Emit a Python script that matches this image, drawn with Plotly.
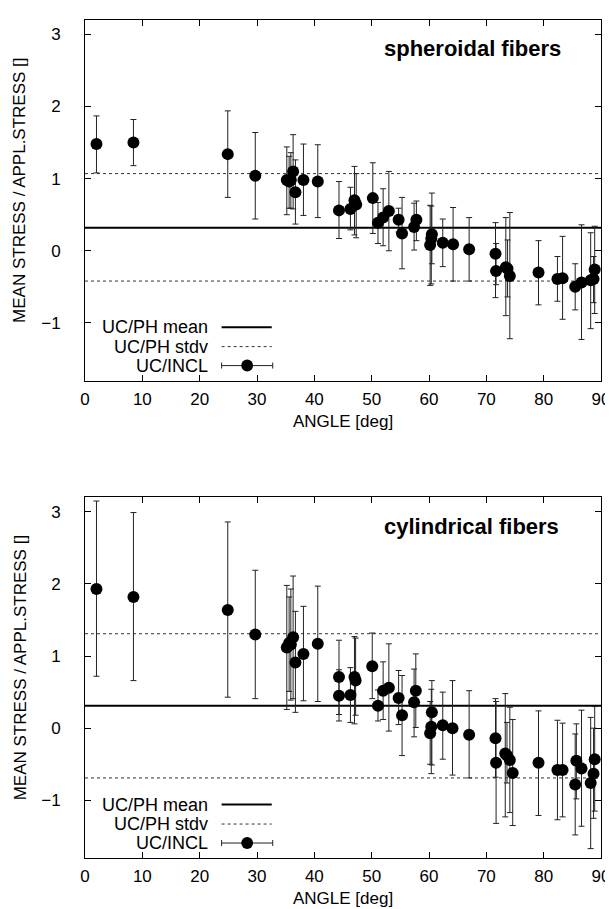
import plotly.graph_objects as go

# ---------------- data ----------------
X_RANGE = [0, 90]
Y_RANGE = [-1.8, 3.2]
X_TICKS = [0, 10, 20, 30, 40, 50, 60, 70, 80, 90]
Y_TICKS = [-1, 0, 1, 2, 3]

TITLE_TOP = "spheroidal fibers"
TITLE_BOT = "cylindrical fibers"

# UC/PH reference lines
MEAN_TOP = 0.32
STDV_TOP = [1.07, -0.42]
MEAN_BOT = 0.31
STDV_BOT = [1.31, -0.69]

# spheroidal fibers: angle, value, upper bound, lower bound
ANG_TOP = [2.0, 8.45, 24.9, 29.7, 35.2, 35.6, 35.9, 36.3, 36.7, 38.1, 40.6, 44.3,
           46.3, 47.0, 47.3, 50.2, 51.1, 52.0, 53.0, 54.7, 55.3, 57.4, 57.8, 60.2,
           60.4, 60.5, 62.4, 64.2, 67.0, 71.6, 71.7, 73.4, 73.7, 74.1, 79.1, 82.4,
           83.3, 85.5, 86.6, 88.2, 88.7, 88.9]
VAL_TOP = [1.48, 1.50, 1.34, 1.04, 0.98, 0.96, 0.98, 1.10, 0.81, 0.98, 0.96, 0.56,
           0.58, 0.70, 0.64, 0.73, 0.39, 0.46, 0.55, 0.43, 0.24, 0.33, 0.43, 0.08,
           0.17, 0.23, 0.11, 0.09, 0.02, -0.04, -0.28, -0.23, -0.25, -0.35, -0.30, -0.39,
           -0.38, -0.50, -0.44, -0.41, -0.39, -0.26]
HI_TOP = [1.87, 1.82, 1.94, 1.64, 1.44, 1.31, 1.36, 1.61, 1.26, 1.48, 1.47, 0.96,
          0.88, 1.17, 1.07, 1.22, 0.67, 0.86, 1.10, 0.59, 0.74, 0.66, 0.69, 0.63,
          0.62, 0.80, 0.44, 0.60, 0.46, 0.39, 0.10, 0.46, 0.15, 0.53, 0.14, -0.08,
          0.20, -0.18, 0.36, 0.25, -0.08, 0.34]
LO_TOP = [1.08, 1.18, 0.74, 0.44, 0.50, 0.59, 0.59, 0.58, 0.37, 0.49, 0.46, 0.17,
          0.29, 0.22, 0.18, 0.24, 0.10, 0.07, 0.00, 0.26, -0.25, 0.01, 0.14, -0.48,
          -0.46, -0.18, -0.22, -0.42, -0.42, -0.65, -0.47, -0.90, -0.64, -1.22, -0.75, -0.70,
          -0.95, -0.82, -1.23, -1.08, -0.72, -0.87]

# cylindrical fibers
ANG_BOT = [2.0, 8.45, 24.9, 29.7, 35.2, 35.6, 35.9, 36.3, 36.7, 38.1, 40.6, 44.3,
           44.3, 46.3, 47.0, 47.2, 50.1, 51.1, 52.0, 53.0, 54.7, 55.3, 57.4, 57.7,
           60.2, 60.4, 60.5, 62.4, 64.1, 67.0, 71.6, 71.7, 73.3, 73.6, 74.1, 74.6,
           79.1, 82.4, 83.3, 85.5, 85.7, 86.6, 88.2, 88.7, 88.9]
VAL_BOT = [1.93, 1.82, 1.64, 1.30, 1.12, 1.18, 1.16, 1.26, 0.91, 1.03, 1.17, 0.71,
           0.45, 0.46, 0.71, 0.66, 0.86, 0.31, 0.52, 0.56, 0.42, 0.18, 0.36, 0.52,
           -0.07, 0.02, 0.22, 0.04, 0.00, -0.09, -0.14, -0.48, -0.35, -0.38, -0.44, -0.62,
           -0.48, -0.58, -0.58, -0.78, -0.45, -0.56, -0.76, -0.63, -0.43]
HI_BOT = [3.15, 2.99, 2.86, 2.19, 1.98, 1.82, 1.93, 2.11, 1.62, 1.69, 1.97, 1.22,
          0.81, 0.84, 1.27, 1.25, 1.32, 0.53, 0.92, 1.17, 0.80, 0.73, 0.82, 1.03,
          0.37, 0.54, 0.66, 0.50, 0.66, 0.52, 0.41, 0.37, 0.48, 0.08, 0.29, 0.12,
          0.24, 0.11, 0.07, -0.08, 0.06, 0.25, 0.15, 0.00, 0.30]
LO_BOT = [0.72, 0.66, 0.43, 0.41, 0.26, 0.51, 0.39, 0.41, 0.22, 0.38, 0.37, 0.19,
          0.10, 0.08, 0.06, 0.18, 0.41, 0.10, 0.12, -0.04, 0.05, -0.38, -0.12, 0.01,
          -0.50, -0.63, -0.51, -0.43, -0.65, -0.69, -0.68, -1.32, -1.23, -0.76, -1.17, -1.35,
          -1.21, -1.27, -1.23, -1.48, -0.98, -1.36, -1.67, -1.25, -1.15]

LEGEND_LABELS = ["UC/PH mean", "UC/PH stdv", "UC/INCL"]

# ---------------- layout helpers ----------------
W, H = 613, 909
ML, MR, MT, MB = 77, 11, 11, 59
PW, PH = W - ML - MR, H - MT - MB
FONT = "Liberation Sans, Arial, Helvetica, sans-serif"


def pxx(x):
    return (x - ML) / PW


def pxy(y):
    return (H - MB - y) / PH


TOP_BOX = (11, 372)
BOT_BOX = (489, 850)

fig = go.Figure()
shapes = []
annotations = []

panels = [
    (ANG_TOP, VAL_TOP, HI_TOP, LO_TOP, MEAN_TOP, STDV_TOP, TITLE_TOP, "x", "y", TOP_BOX, 563),
    (ANG_BOT, VAL_BOT, HI_BOT, LO_BOT, MEAN_BOT, STDV_BOT, TITLE_BOT, "x2", "y2", BOT_BOX, 561),
]

for ang, val, hi, lo, mean, stdv, title, xa, ya, box, title_right in panels:
    for s in stdv:
        fig.add_trace(go.Scatter(x=X_RANGE, y=[s, s], mode="lines", xaxis=xa, yaxis=ya,
                                 line=dict(color="#333333", width=1, dash="3px,3px"),
                                 showlegend=False, hoverinfo="skip"))
    fig.add_trace(go.Scatter(x=X_RANGE, y=[mean, mean], mode="lines", xaxis=xa, yaxis=ya,
                             line=dict(color="black", width=2),
                             showlegend=False, hoverinfo="skip"))
    fig.add_trace(go.Scatter(
        x=ang, y=val, mode="markers", xaxis=xa, yaxis=ya,
        marker=dict(color="black", size=12, line=dict(width=0)),
        error_y=dict(type="data", symmetric=False,
                     array=[h - v for h, v in zip(hi, val)],
                     arrayminus=[v - l for v, l in zip(val, lo)],
                     color="#222222", thickness=1, width=3),
        showlegend=False))

    top, bot = box
    # panel title
    annotations.append(dict(text="<b>%s</b>" % title, xref="paper", yref="paper",
                            x=pxx(title_right), y=pxy(top + 29), xanchor="right", yanchor="middle",
                            showarrow=False, font=dict(size=22, family=FONT, color="black")))
    # axis titles
    annotations.append(dict(text="ANGLE [deg]", xref="paper", yref="paper",
                            x=pxx((ML + W - MR) / 2), y=pxy(bot + 41), xanchor="center", yanchor="middle",
                            showarrow=False, font=dict(size=17, family=FONT, color="black")))
    annotations.append(dict(text="MEAN STRESS / APPL.STRESS []", xref="paper", yref="paper",
                            x=pxx(11), y=pxy(top + 171), xanchor="center", yanchor="middle",
                            textangle=-90, showarrow=False,
                            font=dict(size=17, family=FONT, color="black")))
    # legend (gnuplot style: label then sample)
    rows = [bot - 53.5, bot - 34, bot - 15]
    for lab, ry in zip(LEGEND_LABELS, rows):
        annotations.append(dict(text=lab, xref="paper", yref="paper", x=pxx(204), y=pxy(ry),
                                xanchor="right", yanchor="middle", showarrow=False,
                                font=dict(size=18, family=FONT, color="black")))
    shapes.append(dict(type="line", xref="paper", yref="paper", x0=pxx(216), x1=pxx(267),
                       y0=pxy(rows[0]), y1=pxy(rows[0]), line=dict(color="black", width=2)))
    shapes.append(dict(type="line", xref="paper", yref="paper", x0=pxx(216), x1=pxx(267),
                       y0=pxy(rows[1]), y1=pxy(rows[1]),
                       line=dict(color="#333333", width=1, dash="3px,3px")))
    shapes.append(dict(type="line", xref="paper", yref="paper", x0=pxx(216), x1=pxx(268),
                       y0=pxy(rows[2]), y1=pxy(rows[2]), line=dict(color="#222222", width=1)))
    for cx in (216, 268):
        shapes.append(dict(type="line", xref="paper", yref="paper", x0=pxx(cx), x1=pxx(cx),
                           y0=pxy(rows[2] - 3), y1=pxy(rows[2] + 3),
                           line=dict(color="#222222", width=1)))
    shapes.append(dict(type="circle", xref="paper", yref="paper",
                       x0=pxx(242 - 6), x1=pxx(242 + 6),
                       y0=pxy(rows[2] + 6), y1=pxy(rows[2] - 6),
                       fillcolor="black", line=dict(width=0)))

axis_common = dict(showline=True, linecolor="black", linewidth=1, mirror="allticks",
                   ticks="inside", ticklen=6, tickcolor="black", tickwidth=1,
                   showgrid=False, zeroline=False,
                   tickfont=dict(size=17, family=FONT, color="black"))

xax = dict(axis_common, range=X_RANGE, tickvals=X_TICKS, ticklabelstandoff=3)
yax = dict(axis_common, range=Y_RANGE, tickvals=Y_TICKS, ticklabelstandoff=20)

fig.update_layout(
    width=W, height=H,
    margin=dict(l=ML, r=MR, t=MT, b=MB),
    paper_bgcolor="white", plot_bgcolor="white",
    showlegend=False,
    xaxis=dict(xax, domain=[0, 1], anchor="y"),
    yaxis=dict(yax, domain=[pxy(TOP_BOX[1]), pxy(TOP_BOX[0])], anchor="x"),
    xaxis2=dict(xax, domain=[0, 1], anchor="y2"),
    yaxis2=dict(yax, domain=[pxy(BOT_BOX[1]), pxy(BOT_BOX[0])], anchor="x2"),
    shapes=shapes,
    annotations=annotations,
)

fig.write_html("out.html")
